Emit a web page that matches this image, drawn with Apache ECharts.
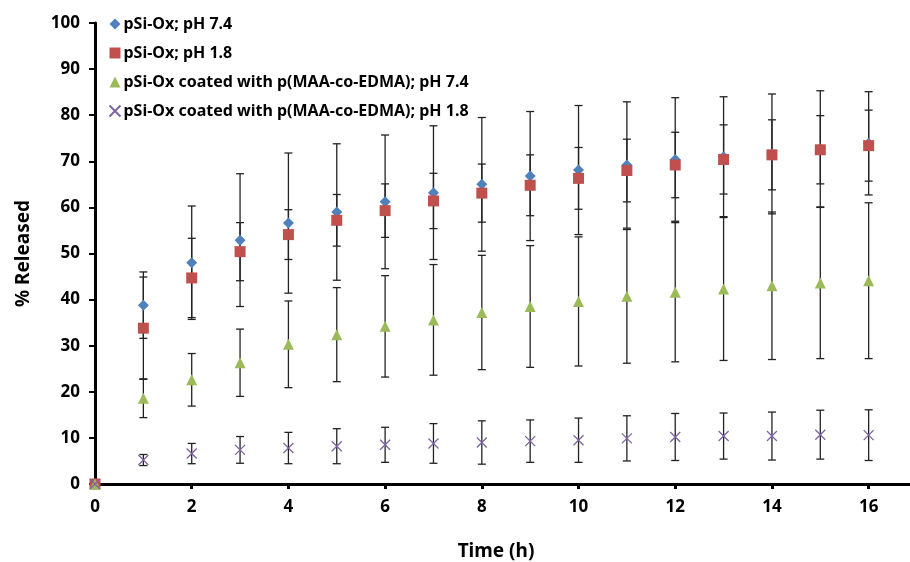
<!DOCTYPE html>
<html>
<head>
<meta charset="utf-8">
<script src="https://cdn.jsdelivr.net/npm/echarts@6/dist/echarts.min.js"></script>
<style>
  html, body { margin: 0; padding: 0; background: #fff; }
  #chart { width: 910px; height: 562px; }
</style>
</head>
<body>
<div id="chart"></div>
<script>
// time points (h)
const hours = [0, 1, 2, 3, 4, 5, 6, 7, 8, 9, 10, 11, 12, 13, 14, 15, 16]

// mean % released, one array per condition
const oxPH74 = [0, 38.8, 48.0, 52.9, 56.6, 59.0, 61.2, 63.2, 65.0, 66.8, 68.1, 69.2, 70.4, 71.0, 71.6, 72.7, 73.9]
const oxPH18 = [0, 33.8, 44.7, 50.4, 54.1, 57.2, 59.3, 61.4, 63.1, 64.8, 66.3, 68.0, 69.2, 70.4, 71.4, 72.5, 73.4]
const coatedPH74 = [0, 18.6, 22.6, 26.3, 30.3, 32.4, 34.2, 35.6, 37.2, 38.5, 39.6, 40.7, 41.6, 42.3, 43.0, 43.6, 44.1]
const coatedPH18 = [0, 5.2, 6.6, 7.4, 7.8, 8.2, 8.5, 8.8, 9.0, 9.3, 9.5, 9.9, 10.2, 10.4, 10.4, 10.7, 10.6]

// error (+/-) for each point
const oxPH74Err = [0, 7.2, 12.3, 14.4, 15.2, 14.8, 14.5, 14.5, 14.5, 14.0, 14.0, 13.7, 13.4, 13.0, 13.0, 12.6, 11.2]
const oxPH18Err = [0, 11.1, 8.6, 6.3, 5.4, 5.6, 5.8, 6.0, 6.3, 6.6, 6.7, 6.8, 7.1, 7.5, 7.6, 7.4, 7.7]
const coatedPH74Err = [0, 4.2, 5.7, 7.3, 9.4, 10.2, 11.0, 12.0, 12.4, 13.2, 14.0, 14.5, 15.1, 15.5, 16.0, 16.4, 16.9]
const coatedPH18Err = [0, 1.2, 2.2, 2.9, 3.4, 3.8, 3.8, 4.3, 4.7, 4.6, 4.8, 4.9, 5.1, 5.0, 5.2, 5.3, 5.5]

const yTicks = [0, 10, 20, 30, 40, 50, 60, 70, 80, 90, 100]

const names = [
  'pSi-Ox; pH 7.4',
  'pSi-Ox; pH 1.8',
  'pSi-Ox coated with p(MAA-co-EDMA); pH 7.4',
  'pSi-Ox coated with p(MAA-co-EDMA); pH 1.8'
]

const font = 'Noto Sans'
const crossPath = 'path://M0,0L10,10M10,0L0,10'

const pairs = (vals) => hours.map((h, i) => [h, vals[i]])

// error bar series built from mean and err arrays
const errSeries = (vals, errs) => ({
  type: 'custom',
  silent: true,
  z: 1,
  renderItem: (params, api) => {
    const x = api.value(0)
    const lo = api.coord([x, api.value(1)])
    const hi = api.coord([x, api.value(2)])
    const cap = 4
    const style = { stroke: '#222', lineWidth: 1.3 }
    return {
      type: 'group',
      children: [
        { type: 'line', shape: { x1: lo[0], y1: lo[1], x2: hi[0], y2: hi[1] }, style },
        { type: 'line', shape: { x1: lo[0] - cap, y1: lo[1], x2: lo[0] + cap, y2: lo[1] }, style },
        { type: 'line', shape: { x1: hi[0] - cap, y1: hi[1], x2: hi[0] + cap, y2: hi[1] }, style }
      ]
    }
  },
  data: hours.map((h, i) => [h, vals[i] - errs[i], vals[i] + errs[i]]).filter(d => d[2] > d[1])
})

const chart = echarts.init(document.getElementById('chart'))

chart.setOption({
  animation: false,
  textStyle: { fontFamily: font },
  grid: { left: 95, top: 23, width: 822, height: 461, containLabel: false, outerBoundsMode: 'none' },
  legend: {
    orient: 'vertical',
    left: 102,
    top: 11,
    itemGap: 13,
    itemWidth: 11,
    itemHeight: 11,
    textStyle: { fontFamily: font, fontWeight: 'bold', fontSize: 16, color: '#000', padding: [0, 0, 0, -2] },
    data: names
  },
  xAxis: {
    type: 'value',
    min: 0,
    max: 17,
    interval: 2,
    name: 'Time (h)',
    nameLocation: 'middle',
    nameGap: 58,
    nameTextStyle: { fontWeight: 'bold', fontSize: 19, color: '#000', padding: [0, 0, 0, -20] },
    axisLine: { lineStyle: { color: '#000', width: 3 } },
    axisTick: { show: true, length: 5, lineStyle: { color: '#000', width: 3 } },
    axisLabel: { showMaxLabel: false, margin: 15, fontWeight: 'bold', fontSize: 17, color: '#000' },
    splitLine: { show: false }
  },
  yAxis: {
    type: 'value',
    min: 0,
    max: 100,
    interval: 10,
    name: '% Released',
    nameLocation: 'middle',
    nameGap: 62,
    nameTextStyle: { fontWeight: 'bold', fontSize: 19, color: '#000' },
    axisLine: { show: true, lineStyle: { color: '#000', width: 3 } },
    axisTick: { show: true, length: 6, lineStyle: { color: '#000', width: 2 } },
    axisLabel: {
      margin: 15,
      fontWeight: 'bold',
      fontSize: 17,
      color: '#000',
      formatter: (v) => (yTicks.includes(v) ? String(v) : '')
    },
    splitLine: { show: false }
  },
  series: [
    errSeries(oxPH74, oxPH74Err),
    errSeries(oxPH18, oxPH18Err),
    errSeries(coatedPH74, coatedPH74Err),
    errSeries(coatedPH18, coatedPH18Err),
    {
      name: names[0], type: 'scatter', z: 3, symbol: 'diamond', symbolSize: 11,
      itemStyle: { color: '#4F81BD', opacity: 1 },
      data: pairs(oxPH74)
    },
    {
      name: names[1], type: 'scatter', z: 4, symbol: 'rect', symbolSize: 11,
      itemStyle: { color: '#C0504D', opacity: 1 },
      data: pairs(oxPH18)
    },
    {
      name: names[2], type: 'scatter', z: 5, symbol: 'triangle', symbolSize: 11,
      itemStyle: { color: '#9BBB59', opacity: 1 },
      data: pairs(coatedPH74)
    },
    {
      name: names[3], type: 'scatter', z: 6, symbol: crossPath, symbolSize: 10,
      itemStyle: { color: 'none', borderColor: '#8064A2', borderWidth: 1.3, opacity: 1 },
      data: pairs(coatedPH18)
    }
  ]
})
</script>
</body>
</html>
